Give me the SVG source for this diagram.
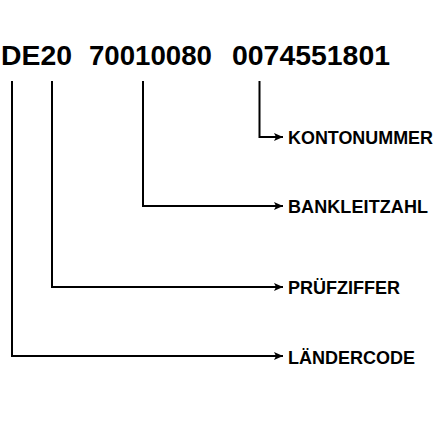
<svg xmlns="http://www.w3.org/2000/svg" width="440" height="440" viewBox="0 0 440 440">
<defs>
<marker id="ah" markerWidth="10" markerHeight="10" refX="9" refY="5" orient="auto" markerUnits="userSpaceOnUse">
<path d="M0,1 L9,5 L0,9 L2,5 Z" fill="#000"/>
</marker>
<style>
.t{font-family:"Liberation Sans",Arial,sans-serif;font-weight:bold;fill:#000}
.iban{font-size:27.5px}
.lbl{font-size:18px}
.c{fill:none;stroke:#000;stroke-width:2;marker-end:url(#ah)}
</style>
</defs>
<rect width="440" height="440" fill="#fff"/>
<g id="iban">
<text class="t iban" x="1" y="65" textLength="71" lengthAdjust="spacingAndGlyphs">DE20</text>
<text class="t iban" x="89" y="65" textLength="123" lengthAdjust="spacingAndGlyphs">70010080</text>
<text class="t iban" x="232" y="65" textLength="158" lengthAdjust="spacingAndGlyphs">0074551801</text>
</g>
<g id="connectors">
<path class="c" d="M259.5,81 V137 H283"/>
<path class="c" d="M143,81 V206 H283"/>
<path class="c" d="M52,81 V287 H283"/>
<path class="c" d="M12,81 V356 H283"/>
</g>
<g id="kontonummer"><text class="t" x="288" y="144" font-size="17.5px" textLength="145" lengthAdjust="spacingAndGlyphs">KONTONUMMER</text></g>
<g id="bankleitzahl"><text class="t lbl" x="288" y="213" textLength="140">BANKLEITZAHL</text></g>
<g id="pruefziffer"><text class="t lbl" x="288" y="294">PRÜFZIFFER</text></g>
<g id="laendercode"><text class="t lbl" x="288" y="364">LÄNDERCODE</text></g>
</svg>
